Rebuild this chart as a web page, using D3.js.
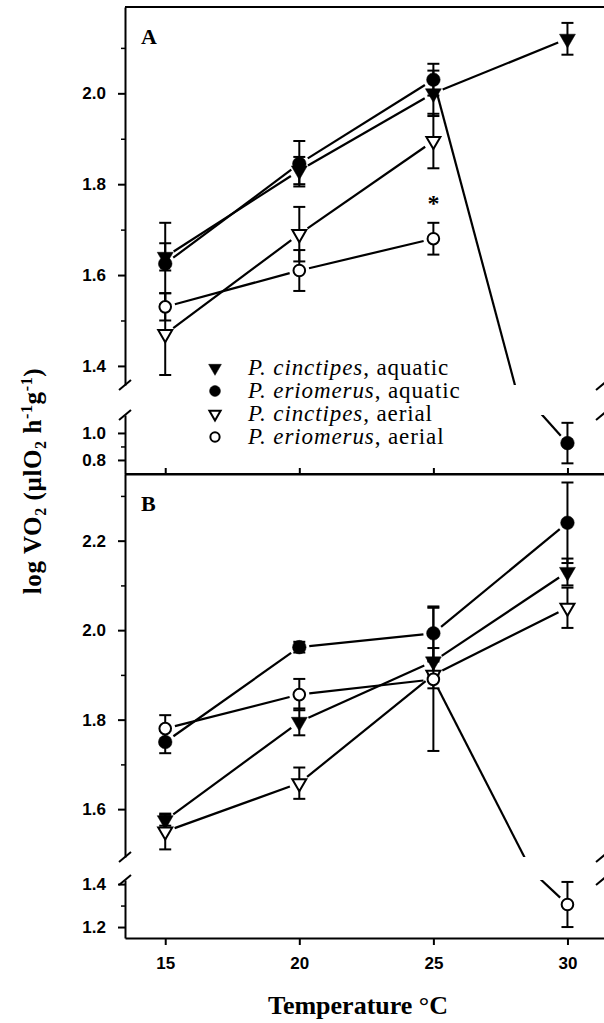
<!DOCTYPE html>
<html>
<head>
<meta charset="utf-8">
<script src="https://cdn.jsdelivr.net/npm/d3@7"></script>
<style>
  body { margin: 0; background: #fff; }
  svg { display: block; }
</style>
</head>
<body>
<div id="chart"></div>
<script>
// temperatures (x)
const temps = [15, 20, 25, 30];

// panel A: log VO2 means and error, null = no value
const aCinAq = [1.64, 1.83, 2.00, 2.12];
const aCinAqErr = [0.03, 0.03, 0.05, 0.035];
const aEriAq = [1.625, 1.845, 2.03, 0.925];
const aEriAqErr = [0.09, 0.05, 0.035, 0.15];
const aCinAe = [1.47, 1.69, 1.895, null];
const aCinAeErr = [0.09, 0.06, 0.06, null];
const aEriAe = [1.53, 1.61, 1.68, null];
const aEriAeErr = [0.03, 0.045, 0.035, null];

// panel B
const bCinAq = [1.575, 1.795, 1.93, 2.13];
const bCinAqErr = [0.012, 0.03, 0.03, 0.03];
const bEriAq = [1.75, 1.962, 1.993, 2.24];
const bEriAqErr = [0.025, 0.012, 0.06, 0.09];
const bCinAe = [1.55, 1.658, 1.90, 2.05];
const bCinAeErr = [0.04, 0.035, 0.03, 0.045];
const bEriAe = [1.78, 1.856, 1.89, 1.305];
const bEriAeErr = [0.03, 0.035, 0.16, 0.105];

// legend
const speciesNames = ["P. cinctipes", "P. eriomerus", "P. cinctipes", "P. eriomerus"];
const mediumNames = ["aquatic", "aquatic", "aerial", "aerial"];

// y ticks, per axis segment
const aUpperMajor = [1.4, 1.6, 1.8, 2.0];
const aUpperMinor = [1.5, 1.7, 1.9, 2.1];
const aLowerMajor = [0.8, 1.0];
const aLowerMinor = [0.9];
const bUpperMajor = [1.6, 1.8, 2.0, 2.2];
const bUpperMinor = [1.7, 1.9, 2.1, 2.3];
const bLowerMajor = [1.2, 1.4];
const bLowerMinor = [1.3];

//////////////////////////////////////////////////////////////////////////////

const W = 604, H = 1023;
const left = 125, right = 605;
const serif = "'Liberation Serif', 'DejaVu Serif', serif";
const sans = "'Liberation Sans', Arial, sans-serif";

const svg = d3.select("#chart")
  .append("svg")
  .attr("width", W)
  .attr("height", H);

const x = d3.scaleLinear().domain([13.5, 31.4]).range([left, right]);

// marker kinds: 0 filled tri down, 1 filled circle, 2 open tri, 3 open circle
function marker(sel, kind, scale) {
  scale = scale || 1;
  if (kind === 1 || kind === 3) {
    sel.append("circle")
      .attr("r", (kind === 1 ? 6.8 : 5.8) * scale)
      .attr("fill", kind === 1 ? "#000" : "#fff")
      .attr("stroke", "#000")
      .attr("stroke-width", kind === 1 ? 0.5 : 2);
  } else {
    sel.append("path")
      .attr("d", d3.symbol().type(d3.symbolTriangle).size((kind === 0 ? 110 : 85) * scale * scale)())
      .attr("transform", "rotate(180)")
      .attr("fill", kind === 0 ? "#000" : "#fff")
      .attr("stroke", "#000")
      .attr("stroke-width", kind === 0 ? 0.5 : 2)
      .attr("stroke-linejoin", "miter");
  }
}

const panels = [
  {
    name: "A", top: 7, bottom: 474, letterY: 44,
    series: [[aCinAq, aCinAqErr], [aEriAq, aEriAqErr], [aCinAe, aCinAeErr], [aEriAe, aEriAeErr]],
    segs: [
      { y: d3.scaleLinear().domain([1.358, 2.19]).range([385, 7]), major: aUpperMajor, minor: aUpperMinor },
      { y: d3.scaleLinear().domain([0.696, 1.133]).range([474, 415]), major: aLowerMajor, minor: aLowerMinor },
    ],
  },
  {
    name: "B", top: 474, bottom: 938, letterY: 511,
    series: [[bCinAq, bCinAqErr], [bEriAq, bEriAqErr], [bCinAe, bCinAeErr], [bEriAe, bEriAeErr]],
    segs: [
      { y: d3.scaleLinear().domain([1.493, 2.349]).range([857, 474]), major: bUpperMajor, minor: bUpperMinor },
      { y: d3.scaleLinear().domain([1.149, 1.419]).range([938, 880]), major: bLowerMajor, minor: bLowerMinor },
    ],
  },
];

const gap = 10; // lines stop short of the markers

panels.forEach((p, pi) => {
  const g = svg.append("g");

  p.segs.forEach((s, si) => {
    const id = `clip${pi}${si}`;
    const r = s.y.range();
    svg.append("clipPath").attr("id", id)
      .append("rect")
      .attr("x", left).attr("width", right - left)
      .attr("y", r[1]).attr("height", r[0] - r[1]);
    s.clip = `url(#${id})`;

    // y axis segment
    const ax = g.append("g").attr("transform", `translate(${left},0)`)
      .call(d3.axisLeft(s.y).tickValues(s.major).tickSize(7).tickSizeOuter(0)
        .tickPadding(12).tickFormat(d3.format(".1f")));
    ax.selectAll("text").attr("font-family", sans).attr("font-weight", "bold")
      .attr("font-size", 17).attr("fill", "#000");
    ax.selectAll("line, path").attr("stroke", "#000").attr("stroke-width", 2);
    const mn = g.append("g").attr("transform", `translate(${left},0)`)
      .call(d3.axisLeft(s.y).tickValues(s.minor).tickSize(4).tickFormat(""));
    mn.select(".domain").remove();
    mn.selectAll("line").attr("stroke", "#000").attr("stroke-width", 1.5);

    // right side frame segment
    g.append("line")
      .attr("x1", right).attr("x2", right)
      .attr("y1", r[0]).attr("y2", r[1])
      .attr("stroke", "#000").attr("stroke-width", 2);
  });

  // break marks
  const breakYs = [p.segs[0].y.range()[0], p.segs[1].y.range()[1]];
  [left, right - 3].forEach((bx) => {
    breakYs.forEach((by) => {
      g.append("line")
        .attr("x1", bx - 6).attr("y1", by + 5)
        .attr("x2", bx + 6).attr("y2", by - 5)
        .attr("stroke", "#000").attr("stroke-width", 2);
    });
  });

  // top frame line
  g.append("line")
    .attr("x1", left).attr("x2", right)
    .attr("y1", p.top).attr("y2", p.top)
    .attr("stroke", "#000").attr("stroke-width", 2);

  // connecting lines, drawn in every segment and clipped
  p.series.forEach(([vals]) => {
    p.segs.forEach((s) => {
      const lg = g.append("g").attr("clip-path", s.clip);
      for (let i = 0; i < vals.length - 1; ++i) {
        if (vals[i] == null || vals[i + 1] == null) continue;
        const x0 = x(temps[i]), y0 = s.y(vals[i]);
        const x1 = x(temps[i + 1]), y1 = s.y(vals[i + 1]);
        const len = Math.hypot(x1 - x0, y1 - y0);
        const ux = (x1 - x0) / len, uy = (y1 - y0) / len;
        lg.append("line")
          .attr("x1", x0 + ux * gap).attr("y1", y0 + uy * gap)
          .attr("x2", x1 - ux * gap).attr("y2", y1 - uy * gap)
          .attr("stroke", "#000").attr("stroke-width", 2.2);
      }
    });
  });

  // error bars and markers
  p.series.forEach(([vals, errs], k) => {
    vals.forEach((v, i) => {
      if (v == null) return;
      const s = p.segs.find((sg) => v >= sg.y.domain()[0] && v <= sg.y.domain()[1]);
      const cx = x(temps[i]);
      const eg = g.append("g").attr("clip-path", s.clip);
      const yLo = s.y(v - errs[i]), yHi = s.y(v + errs[i]);
      eg.append("line")
        .attr("x1", cx).attr("x2", cx).attr("y1", yLo).attr("y2", yHi)
        .attr("stroke", "#000").attr("stroke-width", 2);
      [yLo, yHi].forEach((yy) => {
        eg.append("line")
          .attr("x1", cx - 6).attr("x2", cx + 6).attr("y1", yy).attr("y2", yy)
          .attr("stroke", "#000").attr("stroke-width", 2);
      });
      g.append("g").attr("transform", `translate(${cx},${s.y(v)})`).call(marker, k);
    });
  });

  // panel letter
  g.append("text")
    .attr("x", 141).attr("y", p.letterY)
    .attr("font-family", serif).attr("font-weight", "bold").attr("font-size", 22)
    .text(p.name);
});

// shared bottom of A: ticks pointing up
const axA = svg.append("g").attr("transform", "translate(0,474)")
  .call(d3.axisTop(x).tickValues(temps).tickSize(6).tickSizeOuter(0).tickFormat(""));
axA.selectAll("line, path").attr("stroke", "#000").attr("stroke-width", 2);

// bottom x axis
const axB = svg.append("g").attr("transform", "translate(0,938)")
  .call(d3.axisBottom(x).tickValues(temps).tickSize(7).tickSizeOuter(0).tickPadding(12));
axB.selectAll("line, path").attr("stroke", "#000").attr("stroke-width", 2);
axB.selectAll("text").attr("font-family", sans).attr("font-weight", "bold")
  .attr("font-size", 17).attr("fill", "#000");

// asterisk over P. eriomerus aerial at 25 (panel A)
svg.append("text")
  .attr("x", x(25)).attr("y", panels[0].segs[0].y(aEriAe[2]) - 28)
  .attr("text-anchor", "middle")
  .attr("font-family", serif).attr("font-weight", "bold").attr("font-size", 24)
  .text("*");

// legend
const legend = svg.append("g");
speciesNames.forEach((sp, k) => {
  const ly = 368 + k * 23;
  legend.append("g").attr("transform", `translate(215,${ly})`).call(marker, k, 0.8);
  const t = legend.append("text")
    .attr("x", 248).attr("y", ly + 7)
    .attr("font-family", serif).attr("font-size", 23)
    .attr("letter-spacing", 0.9);
  t.append("tspan").attr("font-style", "italic").text(sp);
  t.append("tspan").text(", " + mediumNames[k]);
});

// axis titles
svg.append("text")
  .attr("x", 358).attr("y", 1014)
  .attr("text-anchor", "middle")
  .attr("font-family", serif).attr("font-weight", "bold").attr("font-size", 26)
  .text("Temperature °C");

const yl = svg.append("text")
  .attr("transform", "translate(41,481) rotate(-90)")
  .attr("text-anchor", "middle")
  .attr("font-family", serif).attr("font-weight", "bold").attr("font-size", 25)
  .attr("letter-spacing", 0.6);
yl.append("tspan").text("log VO");
yl.append("tspan").attr("font-size", 16).attr("dy", 5).text("2");
yl.append("tspan").attr("dy", -5).text(" (µlO");
yl.append("tspan").attr("font-size", 16).attr("dy", 5).text("2");
yl.append("tspan").attr("dy", -5).text(" h");
yl.append("tspan").attr("font-size", 16).attr("dy", -9).text("-1");
yl.append("tspan").attr("dy", 9).text("g");
yl.append("tspan").attr("font-size", 16).attr("dy", -9).text("-1");
yl.append("tspan").attr("dy", 9).text(")");
</script>
</body>
</html>
